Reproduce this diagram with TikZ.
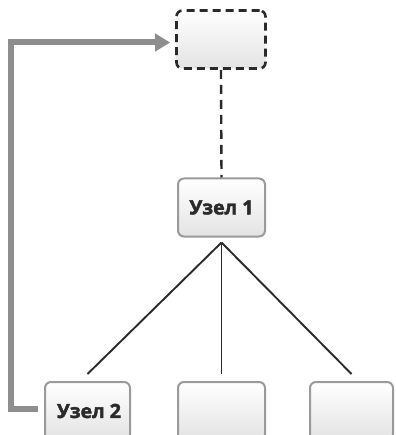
\documentclass[tikz,border=0pt]{standalone}
\usepackage{fontspec}
\setsansfont{Open Sans}[BoldFeatures={FakeBold=2.2}]
\usetikzlibrary{arrows.meta}
\definecolor{boxborder}{HTML}{9A9A9A}
\definecolor{arrowgray}{HTML}{8E8E8E}
\definecolor{darkline}{HTML}{2A2A2A}
\tikzset{
  box/.style={rounded corners=6pt, draw=boxborder, line width=2pt,
    top color=white, bottom color=black!11,
    minimum width=87pt, minimum height=58pt, inner sep=0pt,
    font=\sffamily\bfseries\fontsize{19.5}{23}\selectfont, text=darkline},
  dashbox/.style={box, draw=darkline, line width=2.6pt, dash pattern=on 8pt off 5pt},
  link/.style={draw=darkline, line width=1.9pt},
  dashlink/.style={draw=darkline, line width=2.4pt, dash pattern=on 9pt off 6pt},
  backarrow/.style={draw=arrowgray, line width=6pt,
    -{Triangle[length=15pt,width=17pt]}}
}
\begin{document}
\begin{tikzpicture}[x=1pt,y=-1pt]
\useasboundingbox (0,0) rectangle (395,435);
\clip (0,0) rectangle (395,435);
\node[dashbox, minimum width=89pt] (top) at (221,39.5) {};
\node[box] (n1) at (221.5,207.5) {Узел 1};
\node[box, minimum width=85pt] (n2) at (87.5,411) {\hspace{3pt}Узел 2};
\node[box] (n3) at (221.5,411) {};
\node[box, minimum width=83pt] (n4) at (351.5,411) {};
\draw[dashlink] (top.south) -- (n1.north);
\coordinate (hub) at ([yshift=-5pt]n1.south);
\draw[link] (hub) -- ([yshift=7pt]n2.north);
\draw[link] (hub) -- ([yshift=7pt]n3.north);
\draw[link] (hub) -- ([yshift=7pt]n4.north);
\coordinate (corner) at (11,409);
\draw[backarrow, shorten <=6pt, shorten >=5pt] ([yshift=2pt]n2.west) -- (corner) |- ([yshift=-3pt]top.west);
\end{tikzpicture}
\end{document}
